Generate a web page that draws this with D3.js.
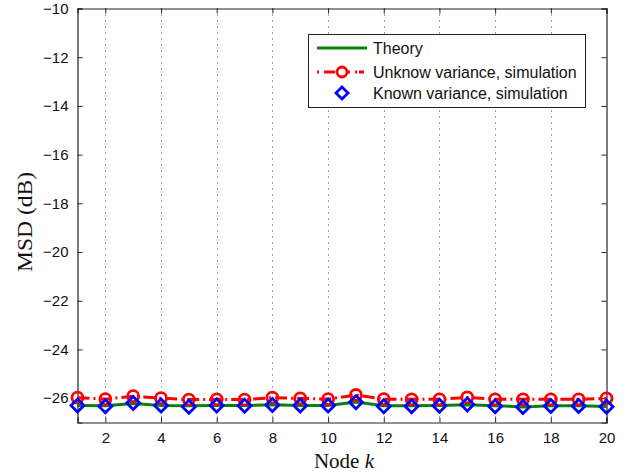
<!DOCTYPE html>
<html><head><meta charset="utf-8">
<script src="https://cdn.jsdelivr.net/npm/d3@7"></script>
<style>body{margin:0;background:#fff;} svg{display:block;}</style>
</head><body>
<svg id="c" width="635" height="474"></svg>
<script>
const nodes = [1,2,3,4,5,6,7,8,9,10,11,12,13,14,15,16,17,18,19,20];
const theory = [-26.30,-26.31,-26.22,-26.30,-26.31,-26.30,-26.30,-26.27,-26.30,-26.30,-26.16,-26.31,-26.31,-26.30,-26.27,-26.31,-26.36,-26.31,-26.31,-26.34];
const unknownSim = [-25.98,-26.04,-25.92,-26.00,-26.06,-26.05,-26.06,-25.98,-26.01,-26.04,-25.87,-26.04,-26.05,-26.05,-25.97,-26.05,-26.05,-26.05,-26.05,-26.01];
const knownSim = [-26.30,-26.33,-26.20,-26.30,-26.35,-26.30,-26.31,-26.28,-26.30,-26.30,-26.17,-26.33,-26.33,-26.31,-26.26,-26.33,-26.36,-26.32,-26.32,-26.35];
const xTicks = [2,4,6,8,10,12,14,16,18,20];
const yTicks = [-26,-24,-22,-20,-18,-16,-14,-12,-10];
const legendLabels = ["Theory","Unknow variance, simulation","Known variance, simulation"];

const svg = d3.select("#c");
const L=77.5, R=606.5, T=8.5, B=422.5;
const x = d3.scaleLinear().domain([1,20]).range([L,R]);
const y = d3.scaleLinear().domain([-27,-10]).range([B,T]);
const fmt = d => String(d).replace("-", "\u2212");

// grid
const g = svg.append("g");
g.selectAll(".gx").data(xTicks.filter(d=>d<20)).enter().append("line")
 .attr("x1",d=>Math.round(x(d))+0.5).attr("x2",d=>Math.round(x(d))+0.5).attr("y1",T).attr("y2",B)
 .attr("stroke","#444").attr("stroke-width",1).attr("stroke-dasharray","1,5");
g.selectAll(".gy").data(yTicks.filter(d=>d>-10)).enter().append("line")
 .attr("y1",d=>Math.round(y(d))+0.5).attr("y2",d=>Math.round(y(d))+0.5).attr("x1",L).attr("x2",R)
 .attr("stroke","#444").attr("stroke-width",1).attr("stroke-dasharray","1,5");

// axes
const ax = d3.axisBottom(x).tickValues(xTicks).tickSize(-5).tickPadding(10).tickFormat(fmt);
const ay = d3.axisLeft(y).tickValues(yTicks).tickSize(-5).tickPadding(9).tickFormat(fmt);
svg.append("g").attr("transform",`translate(0,${B})`).call(ax);
svg.append("g").attr("transform",`translate(${L},0)`).call(ay);
svg.append("g").attr("transform",`translate(0,${T})`).call(d3.axisTop(x).tickValues(xTicks).tickSize(-5).tickFormat(""));
svg.append("g").attr("transform",`translate(${R},0)`).call(d3.axisRight(y).tickValues(yTicks).tickSize(-5).tickFormat(""));
svg.selectAll(".domain").attr("stroke","#222").attr("stroke-width",1.2);
svg.selectAll(".tick line").attr("stroke","#222");
svg.selectAll(".tick text").attr("font-family","Liberation Sans, Arial, sans-serif").attr("font-size",15).attr("fill","#111");

// labels
svg.append("text").attr("x",344).attr("y",468).attr("text-anchor","middle")
 .attr("font-family","Liberation Serif, Times New Roman, serif").attr("font-size",21).attr("fill","#111")
 .html('Node <tspan font-style="italic">k</tspan>');
svg.append("text").attr("transform",`translate(32,222) rotate(-90)`).attr("text-anchor","middle")
 .attr("font-family","Liberation Serif, Times New Roman, serif").attr("font-size",21).attr("fill","#111")
 .attr("textLength",100).attr("lengthAdjust","spacingAndGlyphs")
 .text("MSD (dB)");

const line = d3.line().x((d,i)=>x(nodes[i])).y(d=>y(d));
const dashRed = "12,4,2,4";
svg.append("path").datum(theory).attr("d",line).attr("fill","none").attr("stroke","#0a800a").attr("stroke-width",3);
svg.append("path").datum(unknownSim).attr("d",line).attr("fill","none").attr("stroke","#ff0000").attr("stroke-width",3).attr("stroke-dasharray",dashRed);
svg.selectAll(".rc").data(unknownSim).enter().append("circle")
 .attr("cx",(d,i)=>x(nodes[i])).attr("cy",d=>y(d)).attr("r",5.5)
 .attr("fill","none").attr("stroke","#ff0000").attr("stroke-width",2.8);
const diamond = (cx,cy,s)=>`M${cx},${cy-s}L${cx+s},${cy}L${cx},${cy+s}L${cx-s},${cy}Z`;
svg.selectAll(".bd").data(knownSim).enter().append("path")
 .attr("d",(d,i)=>diamond(x(nodes[i]),y(d),6.5))
 .attr("fill","none").attr("stroke","#0000ff").attr("stroke-width",2.8);

// legend
const lg = svg.append("g");
lg.append("rect").attr("x",308.5).attr("y",34.5).attr("width",277).attr("height",73)
 .attr("fill","#fff").attr("stroke","#222").attr("stroke-width",1);
const ly = [48,72,93];
lg.append("line").attr("x1",317).attr("x2",367).attr("y1",ly[0]).attr("y2",ly[0]).attr("stroke","#0a800a").attr("stroke-width",3);
lg.append("line").attr("x1",317).attr("x2",367).attr("y1",ly[1]).attr("y2",ly[1]).attr("stroke","#ff0000").attr("stroke-width",3).attr("stroke-dasharray","2,5,11,4,11,5,2");
lg.append("circle").attr("cx",342).attr("cy",ly[1]).attr("r",5).attr("fill","#fff").attr("stroke","#ff0000").attr("stroke-width",2.8);
lg.append("path").attr("d",diamond(342,ly[2],6)).attr("fill","none").attr("stroke","#0000ff").attr("stroke-width",2.8);
lg.selectAll(".lt").data(legendLabels).enter().append("text")
 .attr("x",373).attr("y",(d,i)=>ly[i]+5.5).attr("font-family","Liberation Sans, Arial, sans-serif").attr("font-size",16).attr("fill","#111").text(d=>d);
</script>
</body></html>
